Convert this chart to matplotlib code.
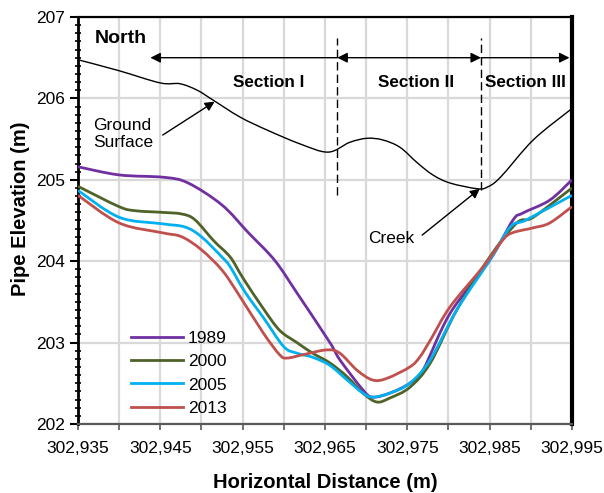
import matplotlib
matplotlib.use("Agg")
import matplotlib.pyplot as plt
from matplotlib.path import Path
from matplotlib.patches import PathPatch
from matplotlib.lines import Line2D
from matplotlib.ticker import MultipleLocator, StrMethodFormatter, FixedLocator

plt.rcParams['font.family'] = ['Liberation Sans', 'DejaVu Sans']

ground_x = [302935.2, 302940, 302945.0, 302947.4, 302949.5, 302951.4, 302954.7, 302958.0,
            302962.0, 302965.4, 302968.0, 302970.1, 302972.0, 302974.1, 302976.2, 302978.1,
            302980.2, 302983.5, 302984.7, 302986.3, 302990.3, 302994.8]
ground_y = [206.47, 206.34, 206.19, 206.18, 206.10, 205.98, 205.77, 205.61,
            205.44, 205.34, 205.46, 205.51, 205.49, 205.40, 205.21, 205.06,
            204.96, 204.89, 204.91, 205.03, 205.49, 205.86]

x1989 = [302935, 302940, 302945.5, 302948.4, 302952.5, 302955.7, 302958.9, 302961.6,
         302965.6, 302966.8, 302969.6, 302970.8, 302972.9, 302975.3, 302976.9, 302980.2,
         302985, 302987.8, 302989, 302992.3, 302995]
y1989 = [205.16, 205.06, 205.03, 204.96, 204.69, 204.35, 204.01, 203.61,
         203.00, 202.79, 202.42, 202.33, 202.38, 202.50, 202.66, 203.36,
         204.01, 204.50, 204.59, 204.75, 205.00]

x2000 = [302935, 302940, 302942, 302945.2, 302947.6, 302949.2, 302951.5, 302953.5,
         302955, 302957.5, 302959.5, 302961.6, 302963.5, 302965.6, 302967.7, 302969.6,
         302971.3, 302972.9, 302975.3, 302977.8, 302981, 302985, 302988.3, 302990.3, 302995]
y2000 = [204.92, 204.67, 204.62, 204.60, 204.58, 204.51, 204.25, 204.05,
         203.80, 203.42, 203.15, 203.00, 202.87, 202.75, 202.58, 202.38,
         202.27, 202.32, 202.45, 202.75, 203.40, 204.05, 204.47, 204.54, 204.90]

x2005 = [302935, 302940, 302945.2, 302948, 302950, 302952.5, 302953.5, 302955.3,
         302957.5, 302960, 302961.6, 302963.5, 302965.6, 302967.7, 302969.6, 302970.8,
         302972.9, 302975.3, 302977.8, 302981, 302985, 302987.5, 302989.5, 302995]
y2005 = [204.87, 204.54, 204.46, 204.42, 204.30, 204.05, 203.93, 203.62,
         203.31, 202.95, 202.87, 202.82, 202.72, 202.54, 202.38, 202.33,
         202.38, 202.50, 202.79, 203.40, 204.01, 204.42, 204.51, 204.81]

x2013 = [302935, 302940, 302945.2, 302947.6, 302950, 302952.5, 302954.4, 302957.5,
         302959.5, 302960.4, 302962.3, 302965.2, 302966.8, 302968.9, 302970.8, 302972.5,
         302975.3, 302976.5, 302977.8, 302980.2, 302984.2, 302986.6, 302987.8, 302990.3,
         302992.3, 302995]
y2013 = [204.81, 204.47, 204.35, 204.30, 204.14, 203.89, 203.61, 203.12,
         202.85, 202.81, 202.85, 202.91, 202.87, 202.66, 202.54, 202.56,
         202.70, 202.82, 203.03, 203.44, 203.93, 204.26, 204.35, 204.41,
         204.47, 204.67]

series_labels = ['1989', '2000', '2005', '2013']
series_colors = ['#7030A0', '#4F6228', '#00B0F0', '#C0504D']

section_bounds = [302943.8, 302966.5, 302983.95, 302994.7]
section_labels = ['Section I', 'Section II', 'Section III']
section_label_x = [302958.2, 302976.1, 302989.3]


def smooth_path(xs, ys):
    """Excel-style smoothed line through the given points (Catmull-Rom as cubic Beziers)."""
    n = len(xs)
    verts = [(xs[0], ys[0])]
    codes = [Path.MOVETO]
    for i in range(n - 1):
        x0, y0 = (xs[i - 1], ys[i - 1]) if i > 0 else (xs[i], ys[i])
        x1, y1 = xs[i], ys[i]
        x2, y2 = xs[i + 1], ys[i + 1]
        x3, y3 = (xs[i + 2], ys[i + 2]) if i + 2 < n else (xs[i + 1], ys[i + 1])
        c1 = (x1 + (x2 - x0) / 6.0, y1 + (y2 - y0) / 6.0)
        c2 = (x2 - (x3 - x1) / 6.0, y2 - (y3 - y1) / 6.0)
        verts += [c1, c2, (x2, y2)]
        codes += [Path.CURVE4, Path.CURVE4, Path.CURVE4]
    return Path(verts, codes)


fig = plt.figure(figsize=(6.04, 4.93), dpi=100)
ax = fig.add_axes([0.129, 0.140, 0.818, 0.8255])

ax.set_xlim(302935, 302995)
ax.set_ylim(202, 207)

ax.xaxis.set_major_locator(FixedLocator([302935, 302945, 302955, 302965, 302975, 302985, 302995]))
ax.xaxis.set_minor_locator(FixedLocator([302940, 302950, 302960, 302970, 302980, 302990]))
ax.xaxis.set_major_formatter(StrMethodFormatter('{x:,.0f}'))
ax.yaxis.set_major_locator(MultipleLocator(1))
ax.yaxis.set_minor_locator(MultipleLocator(0.1))
ax.yaxis.set_major_formatter(StrMethodFormatter('{x:.0f}'))

ax.grid(True, which='major', axis='both', color='#d9d9d9', lw=1.6, zorder=0)
ax.grid(True, which='minor', axis='x', color='#d9d9d9', lw=1.6, zorder=0)
ax.set_axisbelow(True)

ax.tick_params(axis='x', which='both', direction='out', length=4, width=1.2, color='#595959',
               labelsize=12.5, pad=8.5)
ax.tick_params(axis='y', which='major', direction='out', length=6, width=1.5, labelsize=12.5, pad=3)
ax.tick_params(axis='y', which='minor', direction='inout', length=5, width=1.2)

ax.spines['left'].set_linewidth(2.0)
ax.spines['left'].set_color('black')
ax.spines['bottom'].set_linewidth(1.6)
ax.spines['bottom'].set_color('#595959')
ax.spines['top'].set_linewidth(1.6)
ax.spines['top'].set_color('black')
ax.spines['right'].set_linewidth(3.0)
ax.spines['right'].set_color('black')

ax.add_patch(PathPatch(smooth_path(ground_x, ground_y), facecolor='none', edgecolor='black',
                       lw=1.0, zorder=3))

handles = []
for xs, ys, lab, col in zip([x1989, x2000, x2005, x2013], [y1989, y2000, y2005, y2013],
                            series_labels, series_colors):
    ax.add_patch(PathPatch(smooth_path(xs, ys), facecolor='none', edgecolor=col, lw=2.0,
                           zorder=4, joinstyle='round', capstyle='butt'))
    handles.append(Line2D([], [], color=col, lw=2.0, label=lab))

ax.legend(handles=handles, loc='lower left', bbox_to_anchor=(0.093, 0.003), frameon=False,
          fontsize=12.5, handlelength=3.0, handletextpad=0.3, labelspacing=0.47, borderaxespad=0)

# section arrows
arrow_y = 206.5
ap = dict(color='black', lw=1.0, mutation_scale=15, shrinkA=0, shrinkB=0)
ax.annotate('', xy=(section_bounds[0], arrow_y), xytext=(section_bounds[1], arrow_y),
            arrowprops=dict(arrowstyle='-|>', **ap), zorder=5)
ax.annotate('', xy=(section_bounds[1], arrow_y), xytext=(section_bounds[2], arrow_y),
            arrowprops=dict(arrowstyle='<|-|>', **ap), zorder=5)
ax.annotate('', xy=(section_bounds[3], arrow_y), xytext=(section_bounds[2], arrow_y),
            arrowprops=dict(arrowstyle='-|>', **ap), zorder=5)

ax.plot([section_bounds[1], section_bounds[1]], [204.81, 206.74], color='black', lw=1.0,
        ls=(0, (6, 3)), zorder=5)
ax.plot([section_bounds[2], section_bounds[2]], [204.87, 206.74], color='black', lw=1.0,
        ls=(0, (6, 3)), zorder=5)

for lab, lx in zip(section_labels, section_label_x):
    ax.text(lx, 206.2, lab, ha='center', va='center', fontsize=12.3, fontweight='bold', zorder=6)

ax.text(302937.1, 206.74, 'North', ha='left', va='center', fontsize=14, fontweight='bold')

ax.text(302936.9, 205.56, 'Ground\nSurface', ha='left', va='center', fontsize=12.5,
        linespacing=1.2)
ax.annotate('', xy=(302951.6, 205.96), xytext=(302945.3, 205.55),
            arrowprops=dict(arrowstyle='-|>', color='black', lw=1.0, mutation_scale=14,
                            shrinkA=0, shrinkB=0))

ax.text(302975.8, 204.28, 'Creek', ha='right', va='center', fontsize=12.5)
ax.annotate('', xy=(302983.8, 204.89), xytext=(302976.8, 204.32),
            arrowprops=dict(arrowstyle='-|>', color='black', lw=1.0, mutation_scale=14,
                            shrinkA=0, shrinkB=0))

ax.set_xlabel('Horizontal Distance (m)', fontsize=14.5, fontweight='bold')
ax.set_ylabel('Pipe Elevation (m)', fontsize=14.5, fontweight='bold')
ax.xaxis.label.set_va('center')
ax.xaxis.set_label_coords(0.5, -0.145)
ax.yaxis.label.set_va('center')
ax.yaxis.label.set_ha('center')
ax.yaxis.set_label_coords(-0.117, 0.528)

fig.savefig('out.png', dpi=100)
